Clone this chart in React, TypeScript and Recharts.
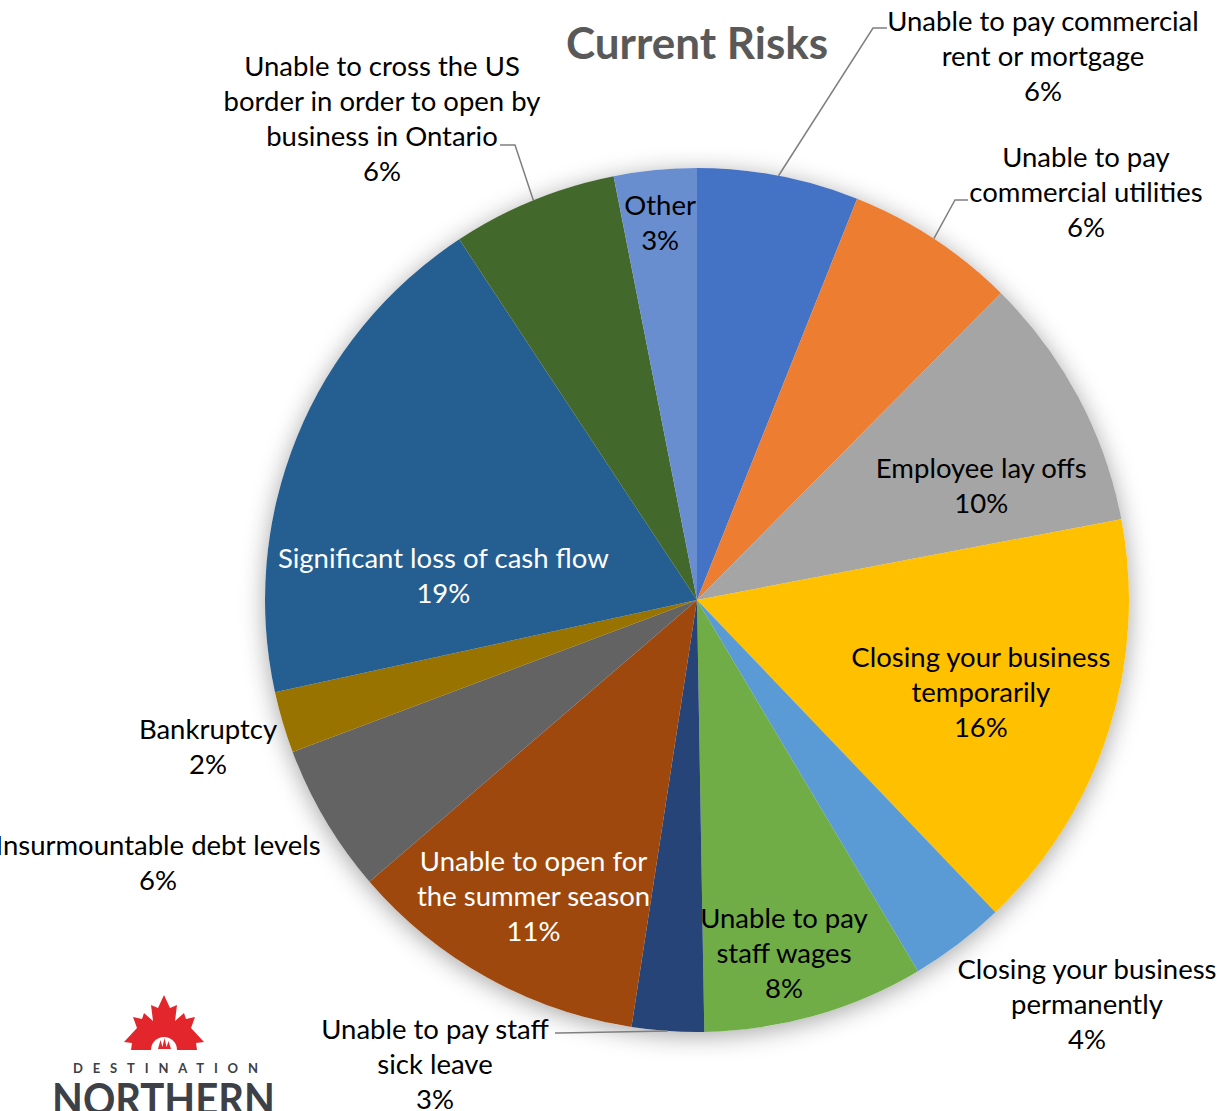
import { PieChart, Pie, Cell } from 'recharts';

// slices clockwise from 12 o'clock
const categories = [
  'Unable to pay commercial rent or mortgage',
  'Unable to pay commercial utilities',
  'Employee lay offs',
  'Closing your business temporarily',
  'Closing your business permanently',
  'Unable to pay staff wages',
  'Unable to pay staff sick leave',
  'Unable to open for the summer season',
  'Insurmountable debt levels',
  'Bankruptcy',
  'Significant loss of cash flow',
  'Unable to cross the US border in order to open by business in Ontario',
  'Other',
];

const values = [6.06, 6.4, 9.6, 15.9, 3.6, 8.3, 2.7, 11.3, 5.6, 2.3, 19.2, 6.2, 3.1];

// how the category names wrap on the chart
const wrappedNames = [
  ['Unable to pay commercial', 'rent or mortgage'],
  ['Unable to pay', 'commercial utilities'],
  ['Employee lay offs'],
  ['Closing your business', 'temporarily'],
  ['Closing your business', 'permanently'],
  ['Unable to pay', 'staff wages'],
  ['Unable to pay staff', 'sick leave'],
  ['Unable to open for', 'the summer season'],
  ['Insurmountable debt levels'],
  ['Bankruptcy'],
  ['Significant loss of cash flow'],
  ['Unable to cross the US', 'border in order to open by', 'business in Ontario'],
  ['Other'],
];

const sliceColors = [
  '#4472C4', '#ED7D31', '#A5A5A5', '#FFC000', '#5B9BD5', '#70AD47', '#264478',
  '#9E480E', '#636363', '#997300', '#255E91', '#43682B', '#698ED0',
];

const labelColors = [
  '#000', '#000', '#000', '#000', '#000', '#000', '#000',
  '#fff', '#000', '#000', '#fff', '#000', '#000',
];

// inside labels: fraction of radius + clockwise angle nudge
// outside labels: offset from pie centre, optional leader (elbow -> end)
type Layout =
  | { inside: true; rf: number; da: number }
  | { inside: false; dx: number; dy: number; leader?: [number, number, number, number] };

const labelLayout: Layout[] = [
  { inside: false, dx: 346, dy: -545, leader: [176, -572, 190, -572] },
  { inside: false, dx: 389, dy: -409, leader: [258, -400, 271, -400] },
  { inside: true, rf: 0.71, da: 6 },
  { inside: true, rf: 0.69, da: 0 },
  { inside: false, dx: 390, dy: 403 },
  { inside: true, rf: 0.84, da: 2 },
  { inside: false, dx: -262, dy: 463, leader: [-138, 433, -142, 433] },
  { inside: true, rf: 0.78, da: 0 },
  { inside: false, dx: -539, dy: 261 },
  { inside: false, dx: -489, dy: 145 },
  { inside: true, rf: 0.59, da: -16.5 },
  { inside: false, dx: -315, dy: -483, leader: [-182, -455, -197, -455] },
  { inside: true, rf: 0.88, da: 0 },
];

const data = categories.map((name, i) => ({ name, value: values[i] }));

const FONT = 'Lato, "Open Sans", sans-serif';
const LINE_H = 35;
const RAD = Math.PI / 180;

const renderLabel = (props: any) => {
  const { cx, cy, midAngle, outerRadius, index, percent } = props;
  const lay = labelLayout[index];
  let x: number;
  let y: number;
  if (lay.inside) {
    const r = outerRadius * lay.rf;
    const a = midAngle - lay.da;
    x = cx + r * Math.cos(-a * RAD);
    y = cy + r * Math.sin(-a * RAD);
  } else {
    x = cx + lay.dx;
    y = cy + lay.dy;
  }
  const lines = [...wrappedNames[index], `${Math.round(percent * 100)}%`];
  const top = y - ((lines.length - 1) * LINE_H) / 2;

  let leader = null;
  if (!lay.inside && lay.leader) {
    const ex = cx + outerRadius * Math.cos(-midAngle * RAD);
    const ey = cy + outerRadius * Math.sin(-midAngle * RAD);
    const [bx, by, tx, ty] = lay.leader;
    leader = (
      <path
        d={`M${ex},${ey}L${cx + bx},${cy + by}L${cx + tx},${cy + ty}`}
        fill="none"
        stroke="#7f7f7f"
        strokeWidth={1.5}
      />
    );
  }

  return (
    <g key={`lbl-${index}`}>
      {leader}
      <text
        x={x}
        y={top}
        textAnchor="middle"
        dominantBaseline="central"
        fill={labelColors[index]}
        style={{ fontFamily: FONT, fontSize: 27.5 }}
      >
        {lines.map((ln, j) => (
          <tspan key={j} x={x} y={top + j * LINE_H}>
            {ln}
          </tspan>
        ))}
      </text>
    </g>
  );
};

const W = 1221;
const H = 1111;
const CX = 697;
const CY = 600;
const R = 432;
const NO_MARGIN = { top: 0, right: 0, bottom: 0, left: 0 };

export default function App() {
  return (
    <div
      style={{
        position: 'absolute',
        left: 0,
        top: 0,
        width: W,
        height: H,
        overflow: 'hidden',
        background: '#fff',
      }}
    >
      {/* soft shadow behind the pie */}
      <div style={{ position: 'absolute', left: 0, top: 0, filter: 'drop-shadow(0px 4px 12px rgba(0,0,0,0.35))' }}>
        <PieChart width={W} height={H} margin={NO_MARGIN}>
          <Pie
            data={data}
            dataKey="value"
            cx={CX}
            cy={CY}
            outerRadius={R}
            startAngle={90}
            endAngle={-270}
            fill="#fff"
            stroke="none"
            isAnimationActive={false}
          />
        </PieChart>
      </div>

      <div style={{ position: 'absolute', left: 0, top: 0 }}>
        <PieChart width={W} height={H} margin={NO_MARGIN}>
          <Pie
            data={data}
            dataKey="value"
            nameKey="name"
            cx={CX}
            cy={CY}
            outerRadius={R}
            startAngle={90}
            endAngle={-270}
            stroke="none"
            label={renderLabel}
            labelLine={false}
            isAnimationActive={false}
          >
            {data.map((d, i) => (
              <Cell key={d.name} fill={sliceColors[i]} />
            ))}
          </Pie>
        </PieChart>
      </div>

      <svg width={W} height={H} style={{ position: 'absolute', left: 0, top: 0, pointerEvents: 'none' }}>
        <text
          x={697}
          y={42}
          textAnchor="middle"
          dominantBaseline="central"
          fill="#595959"
          style={{ fontFamily: FONT, fontSize: 44, fontWeight: 700 }}
        >
          Current Risks
        </text>

        {/* Destination Northern logo */}
        <g transform="translate(124,995)">
          <path
            d="M40,0 L46,13 L53,10 L51,26 L60,18 L62,24 L71,22 L67,33 L80,47 L72,48 L73,55 L7,55 L8,48 L0,47 L13,33 L9,22 L18,24 L20,18 L29,26 L27,10 L34,13 Z"
            fill="#E3262B"
          />
          <path d="M27,55 A13,13 0 0 1 53,55 Z" fill="#fff" />
          <path d="M34,54 L36.5,45 L39,54 Z M38,54 L40.5,43 L43,54 Z M42,54 L44.5,46 L47,54 Z" fill="#E3262B" />
        </g>
        <text
          x={73}
          y={1068}
          dominantBaseline="central"
          textLength={185}
          lengthAdjust="spacing"
          fill="#3d4046"
          style={{ fontFamily: FONT, fontSize: 13, fontWeight: 700 }}
        >
          DESTINATION
        </text>
        <text
          x={52}
          y={1115}
          textLength={223}
          lengthAdjust="spacingAndGlyphs"
          fill="#3d4046"
          style={{ fontFamily: FONT, fontSize: 44, fontWeight: 700 }}
        >
          NORTHERN
        </text>
      </svg>
    </div>
  );
}
